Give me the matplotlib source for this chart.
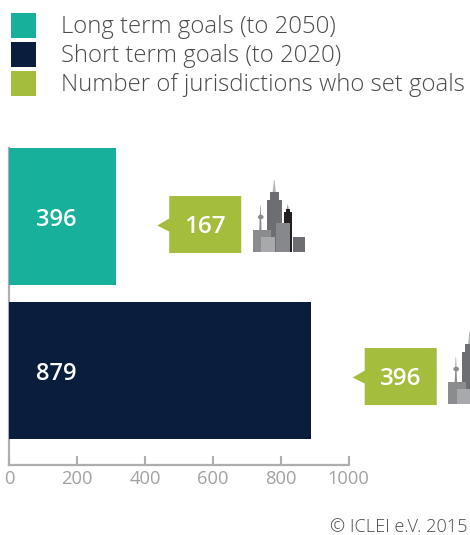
import matplotlib
matplotlib.use("Agg")
import matplotlib.pyplot as plt
from matplotlib.patches import Polygon, Rectangle, Ellipse
from matplotlib.transforms import Affine2D

W, H = 470, 535
plt.rcParams['font.family'] = ['Open Sans', 'DejaVu Sans']

series_names = ["Long term goals (to 2050)", "Short term goals (to 2020)", "Number of jurisdictions who set goals"]
series_colors = ["#16b09b", "#0a1d3c", "#a5bd3c"]
bar_lengths = [313, 889]
bar_labels = ["396", "879"]
jurisdictions = ["167", "396"]
bar_colors = ["#16b09b", "#0a1d3c"]
x_ticks = [0, 200, 400, 600, 800, 1000]
GREEN = "#a5bd3c"
AXIS = "#aeaeb0"
TICKTXT = "#a2a2a4"
LEG = "#4a4b4d"

fig = plt.figure(figsize=(W / 100, H / 100), dpi=100)
px = Affine2D().scale(1, -1).translate(0, H)  # pixel coords, y down

L, R, T, B = 9.3, 348.7, 148, 464.5
ax = fig.add_axes([L / W, 1 - B / H, (R - L) / W, (B - T) / H])
ax.set_xlim(0, 1000)
ax.set_ylim(1.61, -0.445)
ax.barh([0, 1], bar_lengths, height=0.89, color=bar_colors, zorder=3)
for s in ("top", "right"):
    ax.spines[s].set_visible(False)
for s in ("left", "bottom"):
    ax.spines[s].set_color(AXIS)
    ax.spines[s].set_linewidth(1.6)
ax.set_yticks([])
ax.set_xticks(x_ticks)
ax.tick_params(axis="x", direction="in", length=6.5, width=1.5, color=AXIS,
               labelcolor=TICKTXT, labelsize=13.2, pad=4)

for i, (length, lab, j) in enumerate(zip(bar_lengths, bar_labels, jurisdictions)):
    ax.annotate(lab, xy=(0, i), xytext=(47, -3), textcoords="offset pixels",
                color="white", fontsize=17, fontweight="semibold",
                ha="center", va="center", zorder=5)
    # callout position relative to the bar end, in pixels
    xe = ax.transData.transform((length, i))
    xr = xe[0] + 53.7
    cy = H - xe[1] + (8 if i == 0 else 6)
    top = cy - 28.5
    bot = cy + 28.5
    pts = [(xr, top), (xr + 72, top), (xr + 72, bot), (xr, bot),
           (xr, cy + 7), (xr - 12, cy + 1), (xr, cy - 6)]
    fig.add_artist(Polygon(pts, closed=True, fc=GREEN, ec="none", transform=px))
    fig.text((xr + 36) / W, 1 - (cy + 2.2) / H, j, color="white", fontsize=17.5, fontweight="semibold",
             ha="center", va="center")
    # skyline icon
    ox, oy = xr + 71, top - 21
    def box(x0, y0, x1, y1, c, z=2):
        fig.add_artist(Rectangle((ox + x0 / 3, oy + y0 / 3), (x1 - x0) / 3, (y1 - y0) / 3,
                                 fc=c, ec="none", transform=px, zorder=z))
    def poly(p, c, z=2):
        fig.add_artist(Polygon([(ox + a / 3, oy + b / 3) for a, b in p], closed=True,
                               fc=c, ec="none", transform=px, zorder=z))
    poly([(101, 15), (103, 15), (107, 52), (97, 52)], "#b5b6b8", 2)
    box(88, 50, 117, 76, "#6d6e71")
    box(80, 75, 125, 230, "#6d6e71")
    poly([(142, 88), (143, 88), (146, 104), (139, 104)], "#9a9b9d", 2)
    box(137, 102, 148, 113, "#231f20")
    box(130, 112, 155, 230, "#231f20")
    poly([(60, 90), (61, 90), (64, 165), (57, 165)], "#8a8c8e", 2)
    fig.add_artist(Ellipse((ox + 61.5 / 3, oy + 126 / 3), 17 / 3, 14 / 3, fc="#8a8c8e", ec="none",
                           transform=px, zorder=2))
    box(37, 165, 92, 230, "#8a8c8e", 3)
    box(63, 186, 105, 230, "#a7a9ac", 4)
    box(108, 145, 148, 230, "#87888b", 4)
    box(158, 185, 195, 230, "#6d6e71", 3)

# legend
leg_y = [25.5, 54.5, 83.5]
for name, col, y in zip(series_names, series_colors, leg_y):
    fig.add_artist(Rectangle((11, y - 12.5), 25, 25, fc=col, ec="none", transform=px))
    fig.text(61 / W, 1 - (y + 1.7) / H, name, color=LEG, fontsize=17.2, fontweight="light",
             ha="left", va="center")

fig.text(330 / W, 1 - 527.2 / H, "© ICLEI e.V. 2015", color=LEG, fontsize=13.1, fontweight="light",
         ha="left", va="center")

fig.savefig("out.png", dpi=100)
